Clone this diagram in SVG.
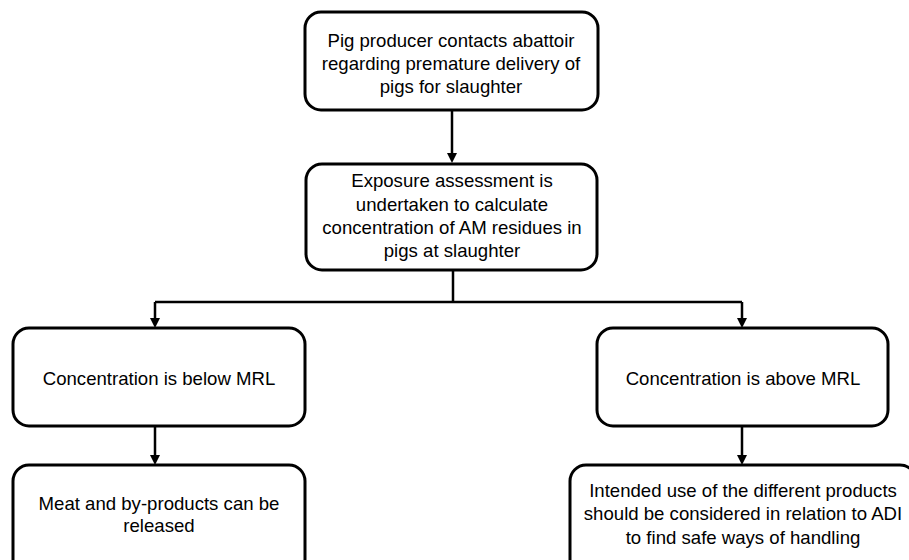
<svg xmlns="http://www.w3.org/2000/svg" width="909" height="560" viewBox="0 0 909 560">
<defs>
<style>
.box{fill:#fff;stroke:#000;stroke-width:3}
.t{font-family:"Liberation Sans",Arial,sans-serif;font-size:18.6px;fill:#000;text-anchor:middle}
.c{fill:none;stroke:#000;stroke-width:2.5}
</style>
</defs>
<rect width="909" height="560" fill="#fff"/>
<g id="connectors">
<path class="c" d="M452,110 V155" />
<path d="M447,153 L452,163 L457,153 z"/>
<path class="c" d="M453,270 V302 M155,302 H742 M155,302 V320 M742,302 V320 M155,426 V457 M742,426 V457"/>
<path d="M150,318 L155,328 L160,318 z"/>
<path d="M737,318 L742,328 L747,318 z"/>
<path d="M150,455 L155,465 L160,455 z"/>
<path d="M737,455 L742,465 L747,455 z"/>
</g>
<g id="n1">
<rect class="box" x="305" y="12" width="293" height="98" rx="16"/>
<text class="t" x="451" y="47">Pig producer contacts abattoir</text>
<text class="t" x="451" y="70">regarding premature delivery of</text>
<text class="t" x="451" y="93">pigs for slaughter</text>
</g>
<g id="n2">
<rect class="box" x="306" y="164" width="291" height="106" rx="16"/>
<text class="t" x="452" y="187">Exposure assessment is</text>
<text class="t" x="452" y="211">undertaken to calculate</text>
<text class="t" x="452" y="234">concentration of AM residues in</text>
<text class="t" x="452" y="257">pigs at slaughter</text>
</g>
<g id="n3">
<rect class="box" x="13" y="328" width="292" height="98" rx="16"/>
<text class="t" x="159" y="385">Concentration is below MRL</text>
</g>
<g id="n4">
<rect class="box" x="597" y="328" width="291" height="98" rx="16"/>
<text class="t" x="743" y="385">Concentration is above MRL</text>
</g>
<g id="n5">
<rect class="box" x="13" y="465" width="292" height="110" rx="16"/>
<text class="t" x="159" y="510">Meat and by-products can be</text>
<text class="t" x="159" y="532">released</text>
</g>
<g id="n6">
<rect class="box" x="570" y="465" width="346" height="110" rx="16"/>
<text class="t" x="743" y="497">Intended use of the different products</text>
<text class="t" x="743" y="520">should be considered in relation to ADI</text>
<text class="t" x="743" y="544">to find safe ways of handling</text>
</g>
</svg>
